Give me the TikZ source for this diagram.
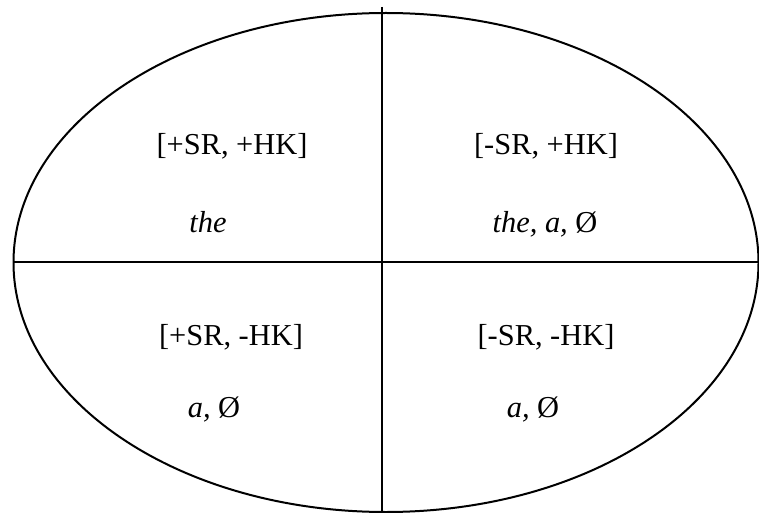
\documentclass[tikz,border=0pt]{standalone}
\usepackage{fontspec}
\setmainfont{Liberation Serif}
\usetikzlibrary{positioning}

\begin{document}
\begin{tikzpicture}[
    x=0.5pt, y=-0.5pt,
    every node/.style={font=\fontsize{15.2}{18}\selectfont, inner sep=0pt, anchor=base},
    frame/.style={line width=1pt, black},
  ]
    \useasboundingbox (0,0) rectangle (759,513);
    % outer oval and the two axes
    \draw[frame] (386,262.5) ellipse [x radius=372.5, y radius=249.5];
    \coordinate (top) at (382,7);
    \coordinate (bot) at (382,513);
    \coordinate (lft) at (14,262);
    \coordinate (rgt) at (759,262);
    \draw[frame] (top) -- (bot);
    \draw[frame] (lft) -- (rgt);
    % feature bundles
    \node (pp) at (232,155) {[+SR, +HK]};
    \node (mp) at (546,155) {[-SR, +HK]};
    \node (pm) at (231,345) {[+SR, -HK]};
    \node (mm) at (546,345) {[-SR, -HK]};
    % articles
    \node (ppart) at (208,233) {\textit{the}};
    \node (mpart) at (545,233) {\textit{the, a,} Ø};
    \node (pmart) at (214,417) {\textit{a,} Ø};
    \node (mmart) at (533,417) {\textit{a,} Ø};
  \end{tikzpicture}
\end{document}
